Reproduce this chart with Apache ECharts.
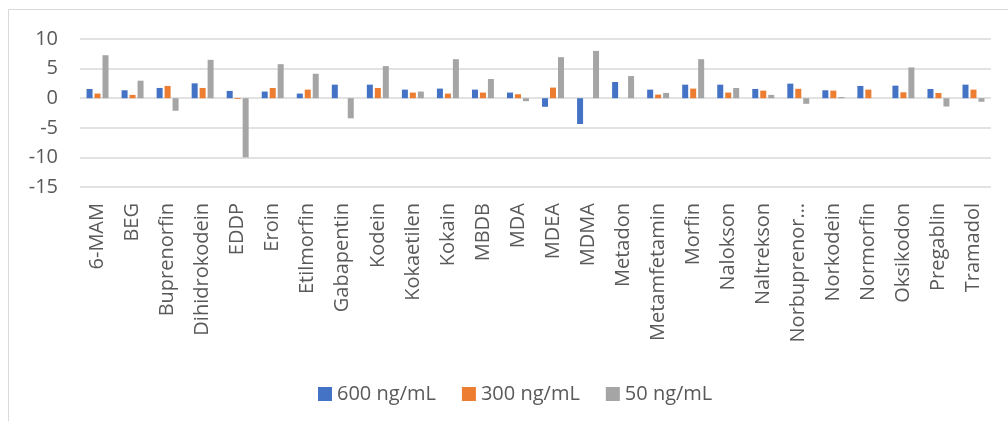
<!DOCTYPE html>
<html>
<head>
<meta charset="utf-8">
<title>Odstopanja po analitih</title>
<script src="https://cdn.jsdelivr.net/npm/echarts@6/dist/echarts.min.js"></script>
<style>
  html, body { margin: 0; padding: 0; background: #ffffff; }
  #chart { width: 1008px; height: 421px; }
</style>
</head>
<body>
<div id="chart"></div>
<script>
// Analytes along the category axis
const categories = [
  '6-MAM', 'BEG', 'Buprenorfin', 'Dihidrokodein', 'EDDP', 'Eroin', 'Etilmorfin',
  'Gabapentin', 'Kodein', 'Kokaetilen', 'Kokain', 'MBDB', 'MDA', 'MDEA', 'MDMA',
  'Metadon', 'Metamfetamin', 'Morfin', 'Nalokson', 'Naltrekson', 'Norbuprenorfin',
  'Norkodein', 'Normorfin', 'Oksikodon', 'Pregablin', 'Tramadol'
];

// Series names
const seriesNames = ['600 ng/mL', '300 ng/mL', '50 ng/mL'];

// Values per concentration level
const values600 = [1.56, 1.34, 1.73, 2.51, 1.23, 1.12, 0.78, 2.29, 2.29, 1.45, 1.62, 1.45, 0.95,
  -1.45, -4.36, 2.74, 1.45, 2.29, 2.29, 1.56, 2.46, 1.34, 2.07, 2.12, 1.56, 2.29];
const values300 = [0.78, 0.56, 2.07, 1.73, -0.15, 1.73, 1.45, 0, 1.73, 0.95, 0.78, 0.95, 0.67,
  1.79, 0, 0, 0.61, 1.62, 0.95, 1.28, 1.59, 1.28, 1.45, 1.0, 0.89, 1.45];
const values50 = [7.26, 2.96, -2.12, 6.48, -10.0, 5.75, 4.13, -3.4, 5.42, 1.12, 6.59, 3.24, -0.5,
  6.93, 7.99, 3.74, 0.89, 6.59, 1.73, 0.56, -0.95, 0.2, 0, 5.2, -1.4, -0.6];

// Value axis range
const yMin = -15;
const yMax = 10;
const yStep = 5;

const colors = ['#4472C4', '#ED7D31', '#A5A5A5'];
const textColor = '#595959';
const fontFamily = '"Open Sans", "Noto Sans", sans-serif';
const maxLabelChars = 13;

const chart = echarts.init(document.getElementById('chart'), null, { renderer: 'canvas' });

const seriesData = [values600, values300, values50];

chart.setOption({
  animation: false,
  color: colors,
  textStyle: { fontFamily: fontFamily },
  graphic: [{
    type: 'rect',
    z: -10,
    silent: true,
    shape: { x: 8.5, y: 9.5, width: 1100, height: 500 },
    style: { fill: 'none', stroke: '#d9d9d9', lineWidth: 1 }
  }],
  grid: {
    left: 80,
    right: 17,
    top: 39,
    bottom: 234
  },
  legend: {
    data: seriesNames,
    left: 313,
    top: 379,
    icon: 'rect',
    itemWidth: 14,
    itemHeight: 14,
    itemGap: 26,
    textStyle: { color: textColor, fontSize: 20, fontFamily: fontFamily }
  },
  xAxis: {
    type: 'category',
    data: categories,
    axisLine: { show: false, onZero: false },
    axisTick: { show: false },
    axisLabel: {
      interval: 0,
      rotate: 90,
      margin: 16,
      color: textColor,
      fontSize: 20,
      fontFamily: fontFamily,
      formatter: function (name) {
        return name.length > maxLabelChars ? name.slice(0, 11) + '…' : name;
      }
    }
  },
  yAxis: {
    type: 'value',
    min: yMin,
    max: yMax,
    interval: yStep,
    axisLine: { show: false },
    axisTick: { show: false },
    axisLabel: {
      margin: 22,
      color: textColor,
      fontSize: 20,
      fontFamily: fontFamily
    },
    splitLine: { lineStyle: { color: '#d9d9d9', width: 1.5 } }
  },
  series: seriesNames.map(function (name, i) {
    return {
      name: name,
      type: 'bar',
      data: seriesData[i],
      barWidth: 6,
      barGap: '33%',
      itemStyle: { color: colors[i] }
    };
  })
});
</script>
</body>
</html>
